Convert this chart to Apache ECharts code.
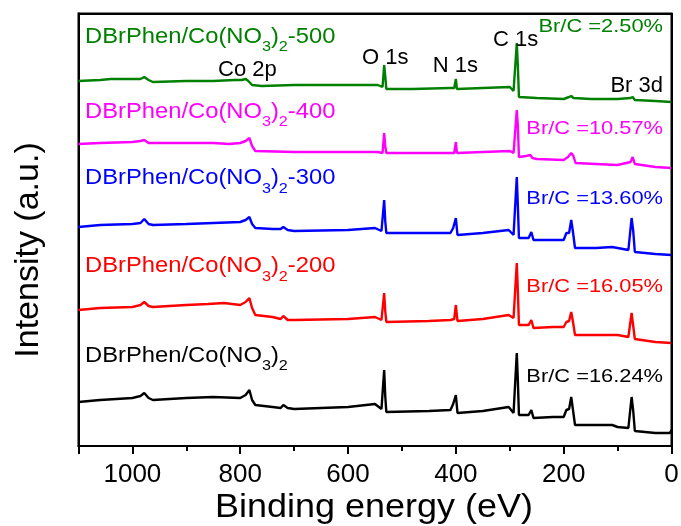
<!DOCTYPE html>
<html>
<head>
<meta charset="utf-8">
<script src="https://cdn.jsdelivr.net/npm/echarts@6/dist/echarts.min.js"></script>
<style>
html,body{margin:0;padding:0;background:#fff;}
#wrap{position:relative;width:681px;height:526px;}
#chart{width:681px;height:526px;}
#frame{position:absolute;left:77.5px;top:12.5px;width:595px;height:433.5px;box-sizing:border-box;border-top:2px solid #000;border-right:2px solid #000;pointer-events:none;}
</style>
</head>
<body>
<div id="wrap">
<div id="chart"></div>
<div id="frame"></div>
</div>
<script>
// ---- Data (binding energy in eV, intensity in a.u.) ----
var xTickLabels = [0, 200, 400, 600, 800, 1000];

var s500 = [[1100,365],[1060,366],[1040,367],[1000,367],[985,367],[978,369],[970,366],[962,364],[900,365],[850,365],[810,366],[797,366],[790,367],[785,365],[778,361],[760,360],[700,361],[600,361],[545,361],[536,359],[533,381],[531,370],[529,357],[480,357],[410,358],[403,358],[400,367],[398,357],[350,358],[300,359],[293,355],[287,403],[285,380],[283,349],[250,348],[200,347],[190,349],[186,350],[182,348],[150,347],[100,347],[76,348],[72,349],[68,346],[30,345],[0,344]];

var s400 = [[1100,302],[1060,303],[1000,304],[985,305],[978,306],[970,303],[900,303],[850,303],[820,302],[800,303],[790,305],[783,308],[778,300],[772,295],[700,294],[600,294],[545,294],[536,293],[533,313],[531,300],[529,293],[450,293],[410,293],[403,293],[400,304],[398,293],[350,294],[300,295],[293,293],[287,336],[285,320],[283,289],[270,290],[262,291],[258,288],[250,287],[200,286],[192,289],[186,293],[182,290],[178,283],[140,282],[100,281],[76,284],[72,289],[68,282],[65,280],[30,279],[0,278]];

var s300 = [[1100,219],[1060,221],[1000,222],[985,223],[978,227],[970,222],[962,221],[900,222],[850,223],[800,224],[790,226],[783,229],[778,222],[772,218],[740,217],[725,217],[720,219],[712,216],[700,215],[600,216],[550,218],[538,215],[533,246],[531,225],[529,213],[450,213],[410,213],[405,218],[400,228],[397,211],[350,213],[302,216],[293,211],[287,269],[285,240],[283,208],[265,208],[260,214],[256,206],[220,206],[200,206],[195,213],[190,213],[186,226],[183,215],[179,198],[140,198],[110,199],[100,198],[80,196],[74,228],[71,215],[68,194],[65,193],[30,192],[0,191]];

var s200 = [[1100,136],[1060,138],[1000,139],[985,141],[978,144],[970,140],[962,139],[900,141],[860,142],[830,143],[800,141],[790,144],[783,148],[778,138],[772,131],[740,129],[725,127],[720,130],[712,126],[700,126],[600,127],[550,129],[538,126],[533,153],[531,135],[529,124],[450,125],[410,126],[403,127],[400,141],[397,125],[350,127],[302,131],[293,128],[287,183],[285,155],[283,121],[265,121],[260,126],[256,118],[220,119],[200,119],[195,124],[190,125],[186,134],[183,125],[179,111],[140,111],[100,111],[80,109],[74,133],[71,120],[68,107],[65,106],[30,104],[0,103]];

var s0 = [[1100,44],[1060,46],[1000,48],[985,50],[978,53],[970,48],[962,46],[900,48],[850,49],[800,48],[790,51],[783,56],[778,46],[772,41],[740,39],[725,38],[720,41],[712,38],[700,37],[600,39],[550,42],[538,37],[533,76],[531,50],[529,34],[450,35],[410,36],[405,42],[400,51],[397,33],[350,35],[302,39],[293,33],[287,93],[285,65],[283,31],[265,31],[260,36],[256,28],[220,29],[200,29],[195,36],[190,37],[186,49],[183,37],[179,21],[140,21],[110,21],[100,19],[80,18],[74,49],[71,35],[68,15],[65,14],[30,13],[3,13],[0,16]];

var seriesNames = ['-500', '-400', '-300', '-200', ''];
var seriesColors = ['#008000', '#ff00ff', '#0000ff', '#ff0000', '#000000'];
var ratioLabels = ['Br/C =2.50%', 'Br/C =10.57%', 'Br/C =13.60%', 'Br/C =16.05%', 'Br/C =16.24%'];
var peakLabels = ['C 1s', 'O 1s', 'N 1s', 'Co 2p', 'Br 3d'];
var xTitle = 'Binding energy (eV)';
var yTitle = 'Intensity (a.u.)';

var seriesData = [s500, s400, s300, s200, s0];

// ---- Chart ----
var FONT = '"Liberation Sans", Arial, sans-serif';
var chart = echarts.init(document.getElementById('chart'));

var series = seriesData.map(function (d, i) {
  return {
    type: 'line', name: 'DBrPhen/Co(NO3)2' + seriesNames[i], data: d,
    xAxisIndex: 0, yAxisIndex: 0,
    showSymbol: false, symbol: 'none', smooth: false,
    lineStyle: {color: seriesColors[i], width: 2.4},
    itemStyle: {color: seriesColors[i]},
    z: 3
  };
});

// label layout (positions in px)
var nameY = [25.7, 100.7, 167.3, 255.2, 344.5];
var ratioY = [26.7, 128.3, 198.3, 286.7, 376.7];
var peakPos = [[493, 40], [362, 57.5], [432.7, 66], [218, 70.3], [663, 86]];

var graphics = [];
seriesNames.forEach(function (suf, i) {
  graphics.push({
    type: 'text', x: 85, y: nameY[i], scaleX: 1.08, z: 10,
    style: {
      text: '{m|DBrPhen/Co(NO}{s|3}{m|)}{s|2}' + (suf ? '{m|' + suf + '}' : ''),
      fill: seriesColors[i], textAlign: 'left', textVerticalAlign: 'top',
      rich: {
        m: {fontSize: 22, fontFamily: FONT, lineHeight: 22, verticalAlign: 'top', fill: seriesColors[i]},
        s: {fontSize: 15, fontFamily: FONT, lineHeight: 15, verticalAlign: 'top', padding: [14, 0, 0, 0], fill: seriesColors[i]}
      }
    }
  });
  graphics.push({
    type: 'text', x: 663, y: ratioY[i], scaleX: 1.15, z: 10,
    style: {
      text: ratioLabels[i], fill: seriesColors[i], fontSize: 19, fontFamily: FONT,
      textAlign: 'right', textVerticalAlign: 'middle'
    }
  });
});
peakLabels.forEach(function (t, i) {
  graphics.push({
    type: 'text', x: peakPos[i][0], y: peakPos[i][1], z: 10,
    style: {
      text: t, fill: '#000', fontSize: 22, fontFamily: FONT,
      textAlign: i === 4 ? 'right' : 'left', textVerticalAlign: 'middle'
    }
  });
});
graphics.push({
  type: 'text', x: 29, y: 250, rotation: Math.PI / 2, z: 10,
  style: {
    text: yTitle, fill: '#000', fontSize: 34, fontFamily: FONT,
    textAlign: 'center', textVerticalAlign: 'middle'
  }
});
graphics.push({
  type: 'text', x: 374, y: 508, scaleX: 1.09, z: 10,
  style: {
    text: xTitle, fill: '#000', fontSize: 33, fontFamily: FONT,
    textAlign: 'center', textVerticalAlign: 'middle'
  }
});

var frameLine = {show: true, onZero: false, lineStyle: {color: '#000', width: 2}};

var option = {
  animation: false,
  grid: {left: 78.5, right: 9.5, top: 13.5, bottom: 80, outerBoundsMode: 'none',
    show: true, borderColor: '#000', borderWidth: 2},
  xAxis: [
    {
      type: 'value', inverse: true, min: 0, max: 1100, interval: 200, position: 'bottom',
      axisLine: frameLine,
      axisTick: {show: true, length: 8, lineStyle: {color: '#000', width: 2}},
      axisLabel: {show: true, fontSize: 26, color: '#000', fontFamily: FONT, margin: 16,
        formatter: function (v) { return xTickLabels.indexOf(v) >= 0 ? String(v) : ''; }},
      splitLine: {show: false}
    },
    {
      type: 'value', inverse: true, min: 0, max: 1100, interval: 100, position: 'bottom',
      axisLine: {show: false, onZero: false},
      axisTick: {show: true, length: 5, lineStyle: {color: '#000', width: 2}},
      axisLabel: {show: false},
      splitLine: {show: false}
    }
  ],
  yAxis: [
    {
      type: 'value', min: 0, max: 432.5, position: 'left',
      axisLine: frameLine,
      axisTick: {show: false}, axisLabel: {show: false}, splitLine: {show: false}
    }
  ],
  series: series,
  graphic: graphics
};
try { chart.setOption(option); } catch (e) { if (window.console) console.error(e); }
</script>
</body>
</html>
